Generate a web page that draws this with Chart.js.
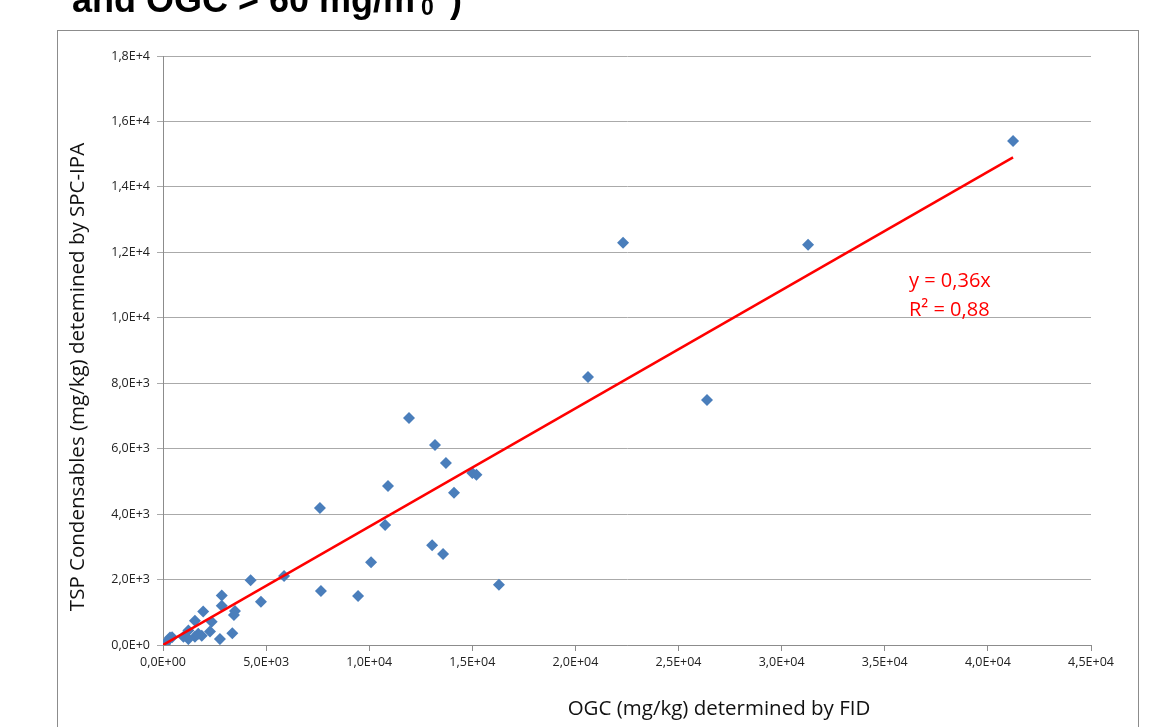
<!DOCTYPE html>
<html>
<head>
<meta charset="utf-8">
<script src="https://cdn.jsdelivr.net/npm/chart.js@4.4.0/dist/chart.umd.min.js"></script>
<style>
  html, body { margin: 0; padding: 0; background: #fff; overflow: hidden; }
  canvas { display: block; }
</style>
</head>
<body>
<canvas id="chart" width="1167" height="727"></canvas>
<script>
// OGC determined by FID (mg/kg)
const ogcValues = [41220, 22310, 31280, 20610, 26380, 11930, 13190, 13720, 15000, 15200,
  14110, 10910, 7610, 10770, 13050, 13580, 10090, 16290, 7660, 9460,
  5870, 4250, 4750, 2850, 2850, 1950, 3490, 3440, 1550, 2360,
  2280, 1230, 990, 1550, 1880, 1230, 1710, 2760, 3360, 340,
  100, 260, 440];
// TSP condensables determined by SPC-IPA (mg/kg)
const tspValues = [15400, 12290, 12230, 8190, 7490, 6940, 6110, 5560, 5260, 5200,
  4650, 4860, 4190, 3670, 3050, 2780, 2530, 1840, 1650, 1500,
  2110, 1980, 1320, 1510, 1200, 1020, 1040, 920, 740, 710,
  410, 440, 250, 250, 280, 180, 340, 180, 360, 230,
  30, 150, 240];
// trend line end points (y = 0,36x)
const trendX = [0, 41220];
const trendY = [0, 14900];
const xTicks = [0, 5000, 10000, 15000, 20000, 25000, 30000, 35000, 40000, 45000];
const yTicks = [0, 2000, 4000, 6000, 8000, 10000, 12000, 14000, 16000, 18000];

function sci(v, digits) {
  if (v === 0) return '0,0E+' + '0'.repeat(digits);
  const e = Math.floor(Math.log10(v) + 1e-9);
  const m = v / Math.pow(10, e);
  return m.toFixed(1).replace('.', ',') + 'E+' + String(e).padStart(digits, '0');
}

const points = ogcValues.map((x, i) => ({ x: x, y: tspValues[i] }));
const trend = trendX.map((x, i) => ({ x: x, y: trendY[i] }));

const decor = {
  id: 'decor',
  beforeDraw(chart) {
    const ctx = chart.ctx;
    ctx.save();
    ctx.fillStyle = '#fff';
    ctx.fillRect(0, 0, chart.width, chart.height);
    ctx.strokeStyle = '#8c8c8c';
    ctx.lineWidth = 1;
    ctx.strokeRect(57.5, 30.5, 1081, 800);
    ctx.restore();
  },
  afterDraw(chart) {
    const ctx = chart.ctx;
    ctx.save();
    ctx.fillStyle = '#000';
    ctx.textBaseline = 'alphabetic';
    // title (clipped at top)
    ctx.font = 'bold 36px "Liberation Sans", Arial, sans-serif';
    const t = 'and OGC > 60 mg/m';
    ctx.fillText(t, 72, 12);
    let x = 72 + ctx.measureText(t).width;
    ctx.font = 'bold 23px "Liberation Sans", Arial, sans-serif';
    ctx.fillText('0', x + 6, 15);
    ctx.fillText('3', x + 6, -12);
    ctx.font = 'bold 36px "Liberation Sans", Arial, sans-serif';
    ctx.fillText(')', x + 35, 12);

    // axis titles
    ctx.font = '20.5px "Open Sans", sans-serif';
    ctx.textAlign = 'center';
    ctx.fillStyle = '#111';
    ctx.fillText('OGC (mg/kg) determined by FID', 719, 715);
    ctx.save();
    ctx.translate(84, 377);
    ctx.rotate(-Math.PI / 2);
    ctx.fillText('TSP Condensables (mg/kg) detemined by SPC-IPA', 0, 0);
    ctx.restore();

    // regression label
    ctx.textAlign = 'left';
    ctx.fillStyle = '#ff0000';
    ctx.font = '20px "Open Sans", sans-serif';
    ctx.fillText('y = 0,36x', 909, 287);
    ctx.fillText('R\u00B2 = 0,88', 909, 316);
    ctx.restore();
  }
};

new Chart(document.getElementById('chart'), {
  type: 'scatter',
  data: {
    datasets: [
      {
        label: 'Linear',
        data: trend,
        showLine: true,
        borderColor: '#ff0000',
        borderWidth: 2.5,
        pointRadius: 0,
        fill: false
      },
      {
        label: 'Data',
        data: points,
        pointStyle: 'rectRot',
        pointRadius: 6,
        backgroundColor: '#4a7ebb',
        borderColor: '#4a7ebb',
        borderWidth: 0
      }
    ]
  },
  options: {
    responsive: false,
    animation: false,
    devicePixelRatio: 1,
    layout: { padding: { top: 56, right: 76, left: 0, bottom: 0 } },
    plugins: { legend: { display: false }, tooltip: { enabled: false } },
    scales: {
      x: {
        type: 'linear',
        min: 0,
        max: 45000,
        afterBuildTicks: (s) => { s.ticks = xTicks.map(v => ({ value: v })); },
        afterFit: (s) => { s.height = 82; },
        ticks: {
          callback: (v) => sci(v, 2),
          font: { family: 'Open Sans', size: 12.5 },
          color: '#222',
          padding: 4,
          maxRotation: 0,
          autoSkip: false
        },
        grid: { drawOnChartArea: false, tickLength: 6, color: '#8c8c8c' },
        border: { color: '#8c8c8c' }
      },
      y: {
        min: 0,
        max: 18000,
        afterBuildTicks: (s) => { s.ticks = yTicks.map(v => ({ value: v })); },
        afterFit: (s) => { s.width = 163; },
        ticks: {
          callback: (v) => sci(v, 1),
          font: { family: 'Open Sans', size: 12.5 },
          color: '#222',
          padding: 7,
          autoSkip: false
        },
        grid: { tickLength: 6, color: '#aaaaaa' },
        border: { color: '#8c8c8c' }
      }
    }
  },
  plugins: [decor]
});
</script>
</body>
</html>
